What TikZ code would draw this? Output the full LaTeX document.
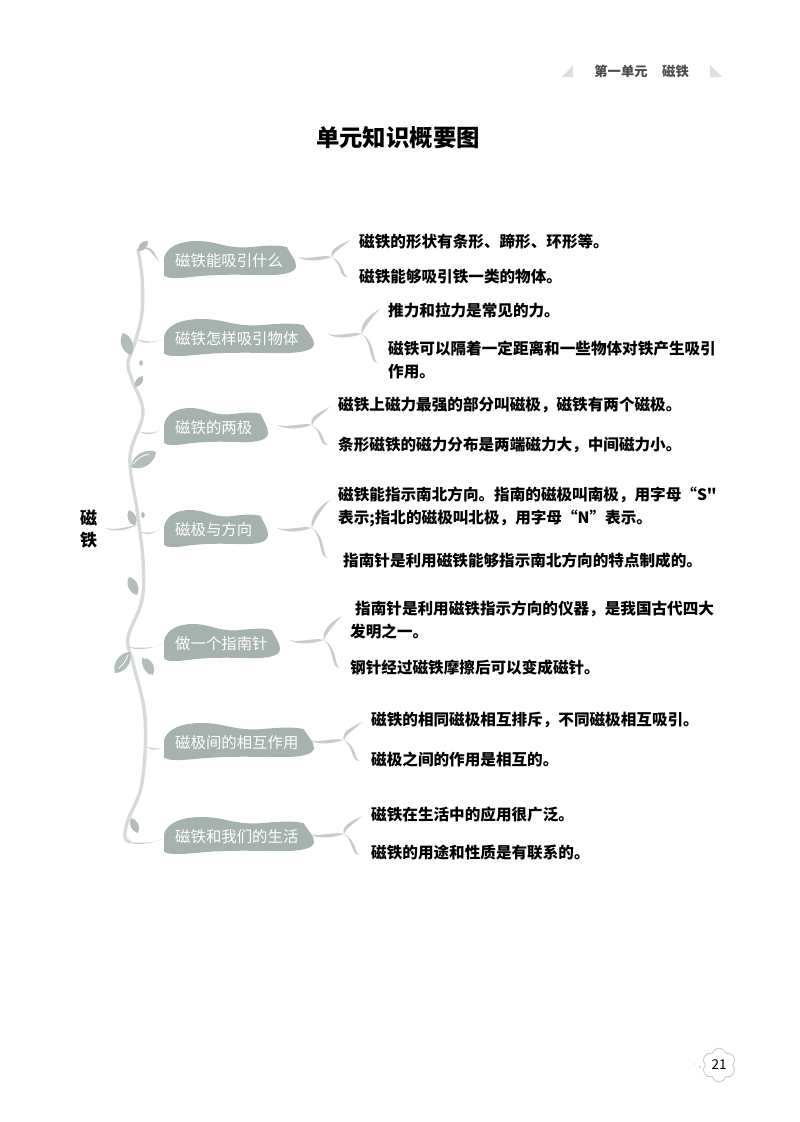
\documentclass[tikz,border=0pt]{standalone}
\usepackage{fontspec}
\setmainfont[Ligatures=TeXOff]{Noto Sans CJK SC}
\usetikzlibrary{shapes.symbols}
\definecolor{blobgray}{HTML}{A6B2B0}
\definecolor{vinegray}{HTML}{D6DBDA}
\definecolor{twiggray}{HTML}{C6CDCB}
\tikzset{
	topic/.style={anchor=west,inner sep=0pt,text=white,font=\fontsize{15.4}{18}\selectfont},
	leafnote/.style={anchor=west,inner sep=0pt,align=left,font=\fontsize{15.6}{23}\selectfont\bfseries},
	twig/.style={fill=twiggray},
	leaflet/.style={fill=blobgray!85!white},
	vein/.style={draw=white,line width=.8pt}
}
\begin{document}
\begin{tikzpicture}[x=1pt,y=-1pt,line join=round,line cap=round]
	\useasboundingbox (0,0) rectangle (800,1122);
	
	% page head
	\fill[gray!25] (562,77)--(573,65)--(573,77)--cycle;
	\fill[gray!25] (710,65)--(722,77)--(710,77)--cycle;
	\node[inner sep=0pt,text=black!70,font=\fontsize{13.3}{16}\selectfont\bfseries] (unit) at (621,71) {第一单元};
	\node[inner sep=0pt,text=black!70,font=\fontsize{13.3}{16}\selectfont\bfseries] (unitname) at (675.5,71) {磁铁};
	\node[inner sep=0pt,font=\fontsize{23.4}{28}\selectfont\bfseries] (title) at (398,138) {单元知识概要图};
	
	% vine
	\draw[vinegray,line width=3.4pt] plot[smooth,tension=.6] coordinates {(138,250) (142,277) (142,313) (135,342) (128,363) (132,380) (143,413) (130,457) (137,510) (143,560) (142,600) (128,638) (133,663) (145,717) (142,783) (128,820) (125,837) (130,842)};
	\coordinate (vine1) at (139,248);
	\coordinate (vine2) at (137,340);
	\coordinate (vine3) at (140,432);
	\coordinate (vine4) at (141,532);
	\coordinate (vine5) at (128,647);
	\coordinate (vine6) at (146,747);
	\coordinate (vine7) at (128,842);
	
	% blobs and their labels
	\foreach \n/\y/\w/\txt in {1/261/132/磁铁能吸引什么,2/339/150/磁铁怎样吸引物体,3/428/104/磁铁的两极,4/530/104/磁极与方向,5/644/116/做一个指南针,6/743/150/磁极间的相互作用,7/837/150/磁铁和我们的生活}{
		\fill[blobgray,shift={(164,\y-20)},xscale=\w,yscale=38] (0,.45) .. controls (.02,.15) and (.12,0) .. (.25,0) .. controls (.4,0) and (.45,.18) .. (.62,.17) .. controls (.72,.14) and (.85,.08) .. (.93,.16) .. controls (.96,.35) and (1,.5) .. (1,.65) .. controls (1,.85) and (.9,.9) .. (.75,.9) .. controls (.55,.88) and (.4,.88) .. (.25,.93) .. controls (.15,.97) and (.02,1.02) .. (0,.9) -- cycle;
		\node[topic] (t\n) at (175,\y) {\txt};
	}
	
	% twigs from vine to blobs
	\coordinate (e1) at (159,263);
	\fill[twig] (vine1) .. controls +(14,-3) and +(-5,-12) .. (e1) .. controls +(-6,-9) and +(10,-1) .. (vine1);
	\foreach \n/\ex/\ey in {2/164/338,3/163/428,4/161/528,5/164/643,6/165/745,7/163/838}{
		\coordinate (e\n) at (\ex,\ey);
		\fill[twig] (vine\n) .. controls +(10,5) and +(-6,4) .. (e\n) .. controls +(-8,6) and +(10,1) .. (vine\n);
	}
	
	% forks
	\foreach \n/\sx/\sy/\uy/\dy in {1/297/257/240/277,2/327/334/309/363,3/277/425/407/445,4/277/528/500/558,5/289/640/616/668,6/309/740/722/761,7/309/834/816/855}{
		\coordinate (s\n) at (\sx,\sy);
		\coordinate (j\n) at (\sx+35,\sy);
		\coordinate (u\n) at (\sx+53,\uy);
		\coordinate (d\n) at (\sx+51,\dy);
		\fill[twig] (s\n) .. controls +(12,6) and +(-10,3) .. (j\n) .. controls +(-8,-3) and +(12,3) .. (s\n);
		\fill[twig] (j\n) .. controls +(-3,-8) and +(-12,6) .. (u\n) .. controls +(-8,8) and +(2,-6) .. (j\n);
		\fill[twig] (j\n) .. controls +(14,8) and +(-6,-1) .. (d\n) .. controls +(-10,0) and +(11,9) .. (j\n);
	}
	
	% leaves
	\foreach \bx/\by/\tx/\ty in {138/251/148/241,131/355/123/333,135/387/143/376,135/526/129/510,137/595/129/577,138/833/131/818}{
		\fill[leaflet] (\bx,\by) to[bend left=55] (\tx,\ty) to[bend left=55] (\bx,\by);
	}
	\fill[leaflet] (131,467) to[bend left=55] (156,452) to[bend left=55] (131,467);
	\draw[vein] (133,464) to[bend left=20] (149,454);
	\fill[leaflet] (130,652) to[bend left=55] (115,673) to[bend left=55] (130,652);
	\draw[vein] (128,655) to[bend left=15] (119,668);
	\fill[leaflet] (142,658) to[bend left=60] (150,675) to[bend left=30] (142,658);
	\fill[leaflet] (146,658) to[bend left=50] (153,675) to[bend left=50] (146,658);
	\fill[leaflet] (141,363) ellipse (1.8 and 2.8);
	\fill[leaflet] (143,515) ellipse (1.8 and 3);
	
	% notes
	\node[leafnote] (n1a) at (359,242) {磁铁的形状有条形、蹄形、环形等。};
	\node[leafnote] (n1b) at (359,277) {磁铁能够吸引铁一类的物体。};
	\node[leafnote] (n2a) at (388,310) {推力和拉力是常见的力。};
	\node[leafnote] (n2b) at (388,360.5) {磁铁可以隔着一定距离和一些物体对铁产生吸引\\作用。};
	\node[leafnote] (n3a) at (338,405) {磁铁上磁力最强的部分叫磁极，磁铁有两个磁极。};
	\node[leafnote] (n3b) at (338,445) {条形磁铁的磁力分布是两端磁力大，中间磁力小。};
	\node[leafnote] (n4a) at (338,506.5) {磁铁能指示南北方向。指南的磁极叫南极，用字母“S"\\表示;指北的磁极叫北极，用字母“N”表示。};
	\node[leafnote] (n4b) at (343,561) {指南针是利用磁铁能够指示南北方向的特点制成的。};
	\node[leafnote] (n5a) at (350,619.5) {\hspace*{5pt}指南针是利用磁铁指示方向的仪器，是我国古代四大\\发明之一。};
	\node[leafnote] (n5b) at (350,668) {钢针经过磁铁摩擦后可以变成磁针。};
	\node[leafnote] (n6a) at (371,720) {磁铁的相同磁极相互排斥，不同磁极相互吸引。};
	\node[leafnote] (n6b) at (371,759) {磁极之间的作用是相互的。};
	\node[leafnote] (n7a) at (371,815) {磁铁在生活中的应用很广泛。};
	\node[leafnote] (n7b) at (371,853) {磁铁的用途和性质是有联系的。};
	
	% root
	\node[inner sep=0pt,align=center,font=\fontsize{17}{22}\selectfont\bfseries] (root) at (88.5,529) {磁\\铁};
	\coordinate (rootend) at (138,525);
	\fill[twig] (105,528) .. controls +(12,6) and +(-8,3) .. (rootend) .. controls +(-10,1) and +(12,3) .. (105,528);
	
	% page number
	\node[cloud,cloud puffs=6,cloud puff arc=150,draw=gray!45,line width=.8pt,minimum width=34pt,minimum height=34pt,inner sep=0pt,font=\fontsize{13.5}{16}\selectfont] (page) at (719,1065) {21};
	\fill[gray!40] (700,1067) circle (1.2);
	\fill[gray!30] (694,1064) circle (.8);
\end{tikzpicture}
\end{document}
